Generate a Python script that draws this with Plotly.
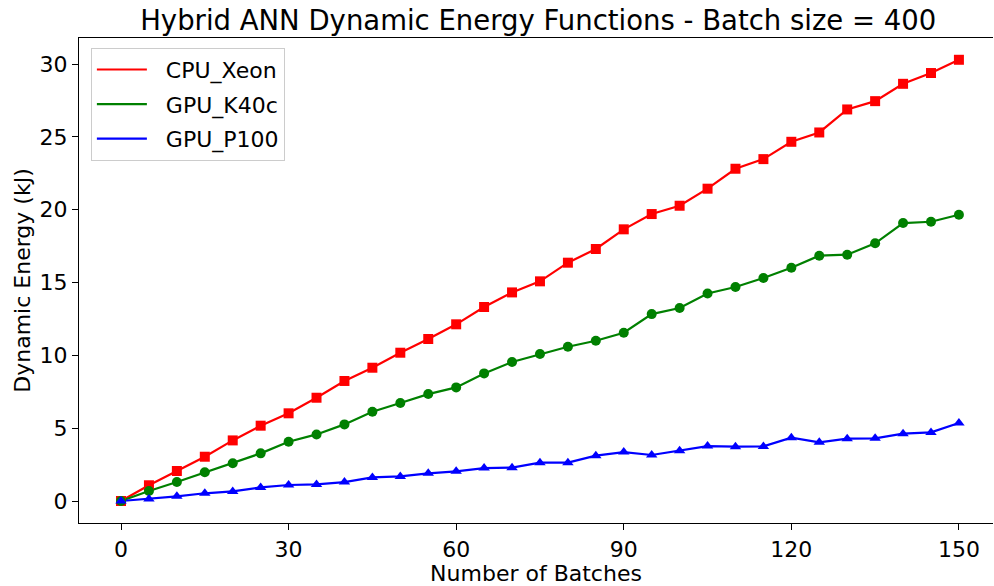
import plotly.graph_objects as go

batches = list(range(0, 155, 5))
cpu_xeon = [0.0, 1.08, 2.06, 3.04, 4.16, 5.17, 6.02, 7.09, 8.24, 9.15, 10.18,
            11.12, 12.13, 13.32, 14.32, 15.08, 16.36, 17.30, 18.65, 19.70, 20.27,
            21.44, 22.81, 23.47, 24.66, 25.30, 26.88, 27.45, 28.64, 29.38, 30.29]
gpu_k40c = [0.0, 0.69, 1.30, 1.97, 2.59, 3.27, 4.07, 4.57, 5.26, 6.13, 6.73,
            7.34, 7.80, 8.76, 9.54, 10.09, 10.59, 11.00, 11.55, 12.83, 13.25,
            14.25, 14.69, 15.31, 16.01, 16.84, 16.91, 17.69, 19.08, 19.17, 19.65]
gpu_p100 = [0.0, 0.14, 0.32, 0.53, 0.66, 0.93, 1.10, 1.14, 1.30, 1.62, 1.69,
            1.90, 2.04, 2.26, 2.29, 2.63, 2.63, 3.11, 3.36, 3.16, 3.45,
            3.77, 3.73, 3.75, 4.35, 4.03, 4.28, 4.30, 4.62, 4.71, 5.35]

series = [
    ("CPU_Xeon", cpu_xeon, "#ff0000", "square"),
    ("GPU_K40c", gpu_k40c, "#008000", "circle"),
    ("GPU_P100", gpu_p100, "#0000ff", "triangle-up"),
]
x_ticks = [0, 30, 60, 90, 120, 150]
y_ticks = [0, 5, 10, 15, 20, 25, 30]

fig = go.Figure()
for name, vals, color, sym in series:
    fig.add_trace(go.Scatter(x=batches, y=vals, mode="lines",
                             name="\u00a0\u00a0" + name,
                             legendgroup=name,
                             line=dict(color=color, width=2.2)))
for name, vals, color, sym in series:
    fig.add_trace(go.Scatter(x=batches, y=vals, mode="markers", showlegend=False,
                             legendgroup=name,
                             marker=dict(color=color, symbol=sym, size=10,
                                         line=dict(width=0))))

font = "DejaVu Sans"
fig.update_layout(
    width=994, height=586,
    margin=dict(l=79, r=1, t=38, b=63),
    paper_bgcolor="white", plot_bgcolor="white",
    font=dict(family=font, size=22, color="black"),
    title=dict(text="Hybrid ANN Dynamic Energy Functions - Batch size = 400",
               x=0.5415, xanchor="center", y=0.966, yanchor="middle",
               font=dict(size=27.5, family=font, color="black")),
    legend=dict(x=0.013, y=0.98, xanchor="left", yanchor="top",
                bgcolor="rgba(255,255,255,0.8)", bordercolor="#cccccc",
                borderwidth=1, font=dict(size=22), itemwidth=50,
                tracegroupgap=3),
    xaxis=dict(range=[-7.52, 156.1], tickvals=x_ticks, ticks="outside",
               ticklen=6, tickwidth=1.2, tickcolor="black",
               showline=True, linecolor="black", linewidth=1.2, mirror=True,
               showgrid=False, zeroline=False,
               title=dict(text="Number of Batches", standoff=2,
                          font=dict(size=22))),
    yaxis=dict(range=[-1.51, 31.785], tickvals=y_ticks, ticks="outside",
               ticklen=6, tickwidth=1.2, tickcolor="black",
               showline=True, linecolor="black", linewidth=1.2,
               showgrid=False, zeroline=False,
               title=dict(text="Dynamic Energy (kJ)", standoff=2,
                          font=dict(size=22))),
)
fig.write_html("out.html")
